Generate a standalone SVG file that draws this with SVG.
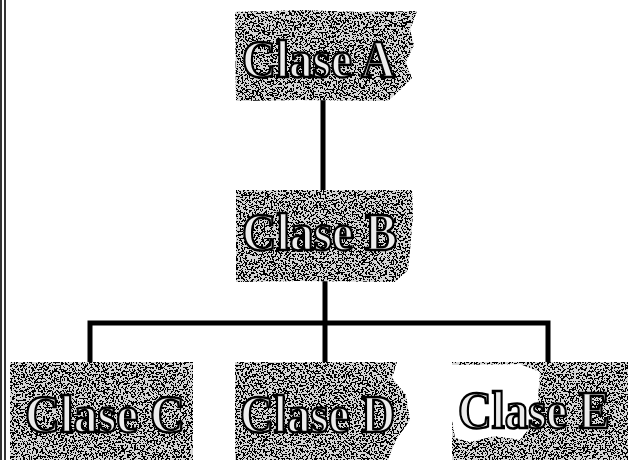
<svg xmlns="http://www.w3.org/2000/svg" width="628" height="460" viewBox="0 0 628 460">
<style>
.box{fill:#d6d6d6;filter:url(#grain);}
.lbl{font-family:"Liberation Serif","Times New Roman",serif;font-weight:bold;font-size:52px;fill:#ececec;stroke:#000;stroke-width:2.4;}
.conn{stroke:#000;stroke-width:5;fill:none;stroke-linecap:square;}
.border{stroke:#000;stroke-width:1.6;}
</style>
<defs>
<filter id="grain" x="0" y="0" width="100%" height="100%" color-interpolation-filters="sRGB">
<feTurbulence type="fractalNoise" baseFrequency="0.55" numOctaves="2" seed="7" result="t"/>
<feColorMatrix in="t" type="matrix" values="0 0 0 0 0  0 0 0 0 0  0 0 0 0 0  1 0 0 0 -0.03" result="m"/>
<feComponentTransfer in="m" result="d"><feFuncA type="discrete" tableValues="0 1"/></feComponentTransfer>
<feComposite in="d" in2="SourceGraphic" operator="in" result="s"/>
<feMerge><feMergeNode in="SourceGraphic"/><feMergeNode in="s"/></feMerge>
</filter>
</defs>
<rect width="628" height="460" fill="#fff"/>
<g id="border">
<line class="border" x1="1" y1="0" x2="1" y2="460"/>
<line class="border" x1="5" y1="0" x2="5" y2="460"/>
</g>
<g id="connectors">
<line class="conn" x1="323" y1="100" x2="323" y2="190"/>
<line class="conn" x1="325" y1="282" x2="325" y2="362"/>
<polyline class="conn" points="90,362 90,323 548,323 548,362"/>
</g>
<g id="claseA">
<path class="box" d="M235,12 L300,10 L360,12 L417,11 L410,30 L414,45 L406,62 L412,78 L400,90 L388,101 L300,100 L236,101 Z"/>
<text class="lbl" x="242" y="77" textLength="153" lengthAdjust="spacingAndGlyphs">Clase A</text>
</g>
<g id="claseB">
<path class="box" d="M236,190 L412,190 L413,215 L410,250 L408,270 L395,282 L300,281 L236,282 Z"/>
<text class="lbl" x="242" y="250" textLength="155" lengthAdjust="spacingAndGlyphs">Clase B</text>
</g>
<g id="claseC">
<path class="box" d="M10,362 L193,362 L193,460 L10,460 Z"/>
<text class="lbl" x="25" y="432" textLength="160" lengthAdjust="spacingAndGlyphs">Clase C</text>
</g>
<g id="claseD">
<path class="box" d="M235,362 L397,362 L392,378 L406,395 L410,420 L396,440 L388,460 L235,460 Z"/>
<text class="lbl" x="240" y="432" textLength="155" lengthAdjust="spacingAndGlyphs">Clase D</text>
</g>
<g id="claseE">
<path class="box" d="M452,362 L628,362 L628,460 L452,460 Z"/>
<path d="M452,365 L520,364 L540,372 L538,400 L532,425 L520,440 L495,436 L470,442 L455,438 L452,420 Z" fill="#fff"/>
<text class="lbl" x="458" y="428" textLength="152" lengthAdjust="spacingAndGlyphs">Clase E</text>
</g>
</svg>
